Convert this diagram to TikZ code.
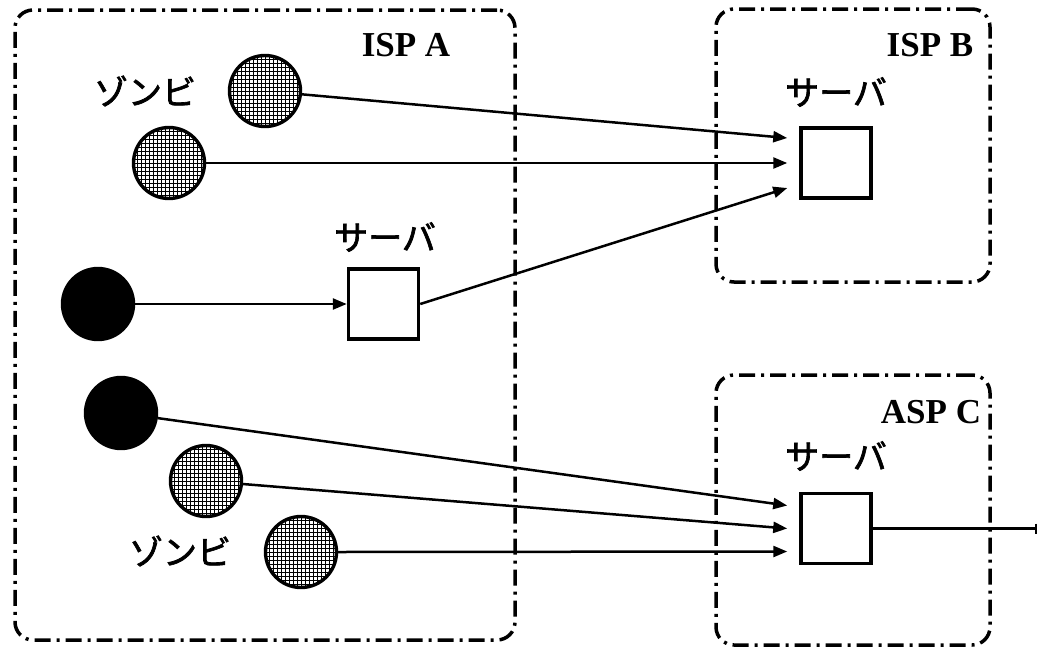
\documentclass[tikz,border=0pt]{standalone}
\usepackage{fontspec}
\setmainfont{Liberation Serif}
\newfontfamily\jp{Noto Sans CJK JP}[FakeBold=2]
\usetikzlibrary{arrows.meta}
\tikzset{
  region/.style={draw, line width=3.5pt, rounded corners=18pt, dash pattern=on 16pt off 6pt on 3pt off 6pt, rectangle},
  zombie/.style={circle, draw, line width=3.4pt, minimum size=71pt, inner sep=0pt, fill=white,
    path picture={
      \foreach \i in {-9,...,9}{
        \draw[line width=0.8pt] ([xshift=\i*4pt]path picture bounding box.north) -- ([xshift=\i*4pt]path picture bounding box.south);
        \draw[line width=0.8pt] ([yshift=\i*4pt]path picture bounding box.west) -- ([yshift=\i*4pt]path picture bounding box.east);
      }
    }},
  host/.style={circle, fill=black, draw, line width=3.4pt, minimum size=71pt, inner sep=0pt},
  server/.style={rectangle, draw, line width=3.5pt, minimum size=70pt, inner sep=0pt, fill=white},
  jplabel/.style={font=\jp\fontsize{34pt}{36pt}\selectfont, inner sep=0pt},
  isplabel/.style={font=\bfseries\fontsize{35pt}{38pt}\selectfont, inner sep=0pt},
  arr/.style={line width=2.5pt, -{Triangle[length=14pt,width=11pt]}}
}
\begin{document}
\begin{tikzpicture}[x=1pt,y=-1pt]
\useasboundingbox (0,0) rectangle (1038,648);
% regions
\node[region, minimum width=500pt, minimum height=630pt] (ispA) at (265,325) {};
\node[region, minimum width=274pt, minimum height=273pt] (ispB) at (853,145.5) {};
\node[region, minimum width=274pt, minimum height=270pt] (aspC) at (853,510) {};
\node[isplabel] (lA) at (406,45) {ISP A};
\node[isplabel] (lB) at (930,45) {ISP B};
\node[isplabel] (lC) at (931,412) {ASP C};
% hosts
\node[zombie] (z1) at (265,91) {};
\node[zombie] (z2) at (169,163) {};
\node[host] (b1) at (98,304) {};
\node[host] (b2) at (121,413) {};
\node[zombie] (z3) at (206,481) {};
\node[zombie] (z4) at (301,552) {};
\node[jplabel] (zl1) at (145,91) {ゾンビ};
\node[jplabel] (zl2) at (180,551) {ゾンビ};
% servers
\node[server] (sA) at (383.5,304) {};
\node[server] (sB) at (836,163) {};
\node[server] (sC) at (836,528.5) {};
\node[jplabel] (sAl) at (385,237) {サーバ};
\node[jplabel] (sBl) at (836,92) {サーバ};
\node[jplabel] (sCl) at (836,456) {サーバ};
% arrows
\draw[arr] (z1) -- ([xshift=-12pt,yshift=25pt]sB.west);
\draw[arr] (z2.east) -- ([xshift=-12pt]sB.west);
\draw[arr] (sA.east) -- ([xshift=-12pt,yshift=-25pt]sB.west);
\draw[arr] (b1.east) -- (sA.west);
\draw[arr] (b2) -- ([xshift=-12pt,yshift=23pt]sC.west);
\draw[arr] (z3) -- ([xshift=-12pt]sC.west);
\draw[arr] (z4.east) -- ([xshift=-12pt,yshift=-23pt]sC.west);
\coordinate (out) at (1037,528.5);
\draw[line width=2.5pt, -{Bar[width=10pt,line width=2.5pt]}] (sC.east) -- (out);
\end{tikzpicture}
\end{document}
